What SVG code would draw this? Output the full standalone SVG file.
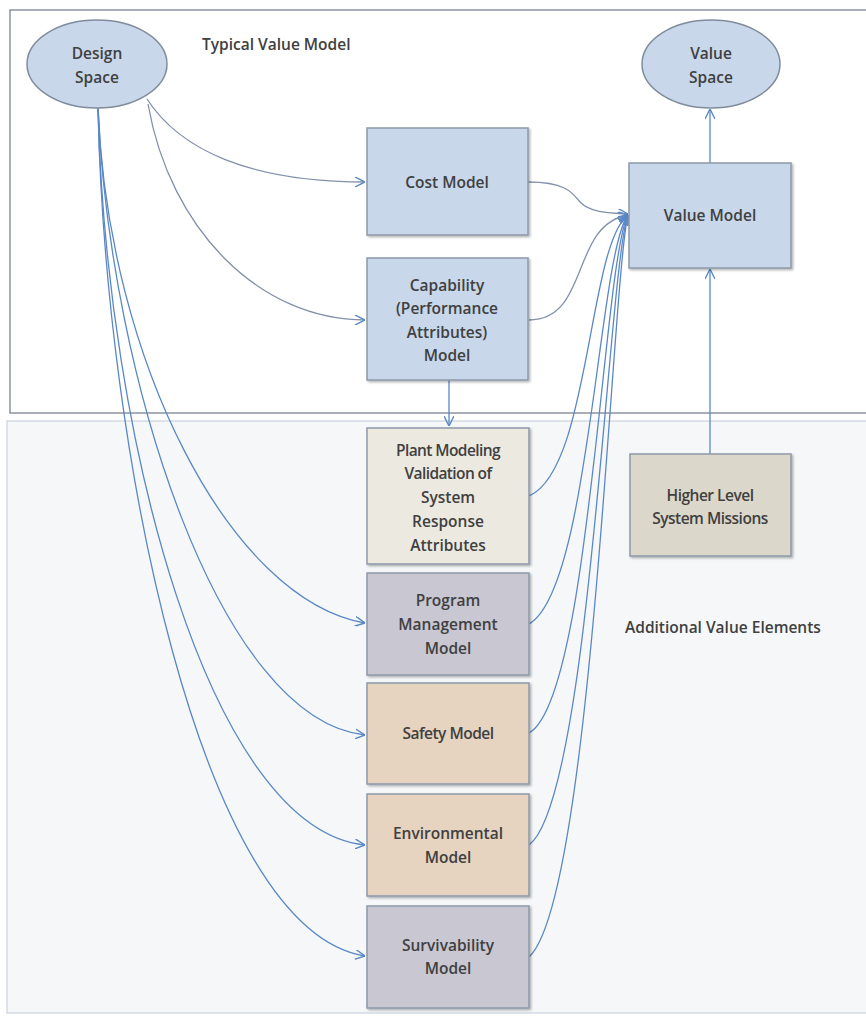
<svg xmlns="http://www.w3.org/2000/svg" width="866" height="1032" viewBox="0 0 866 1032">
  <style>
    .lbl { font-family: "Open Sans", "Liberation Sans", sans-serif; font-size: 15.5px; font-weight: 600; fill: #404040; text-anchor: middle; }
    .title { font-family: "Open Sans", "Liberation Sans", sans-serif; font-size: 15.5px; font-weight: 600; fill: #404040; }
    .box { stroke: #8d99a8; stroke-width: 1.5; filter: url(#shadow); }
    .blue { fill: #c8d7ea; }
    .cream { fill: #ece9e1; }
    .khaki { fill: #dbd8cb; }
    .lav { fill: #c8c7d2; }
    .peach { fill: #e6d3c0; }
    .oval { fill: #c8d7ea; stroke: #7f8c9c; stroke-width: 1.5; }
    .conn { fill: none; stroke: #5a88c6; stroke-width: 1.3; marker-end: url(#arrow); }
    .conn.grey { stroke: #8390ab; }
  </style>
  <defs>
    <marker id="arrow" viewBox="0 0 10 10" refX="10" refY="5" markerWidth="10" markerHeight="10" markerUnits="userSpaceOnUse" orient="auto">
      <path d="M0,0 L10,5 L0,10" fill="none" stroke="#5a88c6" stroke-width="1.4"/>
    </marker>
    <filter id="shadow" x="-10%" y="-10%" width="125%" height="125%">
      <feDropShadow dx="1.5" dy="1.5" stdDeviation="1" flood-color="#000" flood-opacity="0.3"/>
    </filter>
  </defs>

  <rect x="0" y="0" width="866" height="1032" fill="#ffffff"/>

  <!-- Upper frame: typical value model -->
  <g id="typical-frame">
    <rect x="10" y="10" width="870" height="403" fill="#ffffff" stroke="#8c949e" stroke-width="1.5"/>
    <text class="title" x="202" y="50">Typical Value Model</text>
  </g>

  <!-- Lower frame: additional value elements -->
  <g id="additional-frame">
    <rect x="7" y="421" width="870" height="592" fill="#f6f7f8" stroke="#c9d2dc" stroke-width="1.2"/>
    <text class="title" x="625" y="633">Additional Value Elements</text>
  </g>

  <!-- Connectors -->
  <g id="connectors">
    <!-- Design Space outputs -->
    <path class="conn grey" d="M147,99 C180,150 250,182 365,182"/>
    <path class="conn grey" d="M148,104 C170,230 260,320 365,320"/>
    <path class="conn" d="M98,108 C108,360 230,600 365,623"/>
    <path class="conn" d="M98,108 C110,380 220,720 365,735"/>
    <path class="conn" d="M98,108 C106,440 210,830 365,845"/>
    <path class="conn" d="M98,108 C105,450 200,930 365,956"/>
    <!-- Capability to plant modeling -->
    <path class="conn" d="M449,380 L449,426"/>
    <!-- Inputs to value model -->
    <path class="conn grey" d="M528,182 C565,182 572,192 580,202 C590,212 605,213 628,214"/>
    <path class="conn grey" d="M529,320 C590,320 570,225 628,215"/>
    <path class="conn" d="M529,496 C590,470 588,245 628,215"/>
    <path class="conn" d="M529,624 C590,590 598,255 628,215"/>
    <path class="conn" d="M529,733 C590,700 603,262 628,215"/>
    <path class="conn" d="M529,845 C590,800 608,270 628,215"/>
    <path class="conn" d="M529,957 C592,900 612,280 628,215"/>
    <!-- Value model up to value space -->
    <path class="conn" d="M710,163 L710,109"/>
    <!-- Higher level missions up to value model -->
    <path class="conn" d="M710,454 L710,269"/>
  </g>

  <!-- Nodes -->
  <g id="design-space">
    <ellipse class="oval" cx="97" cy="64" rx="70" ry="44"/>
    <text class="lbl" x="97" y="59">Design</text>
    <text class="lbl" x="97" y="83">Space</text>
  </g>

  <g id="value-space">
    <ellipse class="oval" cx="711" cy="64" rx="69" ry="44"/>
    <text class="lbl" x="711" y="59">Value</text>
    <text class="lbl" x="711" y="83">Space</text>
  </g>

  <g id="cost-model">
    <rect class="box blue" x="367" y="128" width="161" height="107"/>
    <text class="lbl" x="447" y="188">Cost Model</text>
  </g>

  <g id="capability-model">
    <rect class="box blue" x="367" y="258" width="161" height="122"/>
    <text class="lbl" x="447" y="291">Capability</text>
    <text class="lbl" x="447" y="314">(Performance</text>
    <text class="lbl" x="447" y="338">Attributes)</text>
    <text class="lbl" x="447" y="361">Model</text>
  </g>

  <g id="value-model">
    <rect class="box blue" x="629" y="163" width="162" height="105"/>
    <text class="lbl" x="710" y="221">Value Model</text>
  </g>

  <g id="plant-modeling">
    <rect class="box cream" x="367" y="428" width="162" height="136"/>
    <text class="lbl" x="448" y="456" letter-spacing="-0.6">Plant Modeling</text>
    <text class="lbl" x="448" y="479" letter-spacing="-0.6">Validation of</text>
    <text class="lbl" x="448" y="503">System</text>
    <text class="lbl" x="448" y="527">Response</text>
    <text class="lbl" x="448" y="551">Attributes</text>
  </g>

  <g id="higher-level-missions">
    <rect class="box khaki" x="630" y="454" width="161" height="102"/>
    <text class="lbl" x="710" y="501" letter-spacing="-0.5">Higher Level</text>
    <text class="lbl" x="710" y="524" letter-spacing="-0.5">System Missions</text>
  </g>

  <g id="program-management-model">
    <rect class="box lav" x="367" y="573" width="162" height="102"/>
    <text class="lbl" x="448" y="606">Program</text>
    <text class="lbl" x="448" y="630">Management</text>
    <text class="lbl" x="448" y="654">Model</text>
  </g>

  <g id="safety-model">
    <rect class="box peach" x="367" y="683" width="162" height="101"/>
    <text class="lbl" x="448" y="739" letter-spacing="-0.5">Safety Model</text>
  </g>

  <g id="environmental-model">
    <rect class="box peach" x="367" y="794" width="162" height="102"/>
    <text class="lbl" x="448" y="839">Environmental</text>
    <text class="lbl" x="448" y="863">Model</text>
  </g>

  <g id="survivability-model">
    <rect class="box lav" x="367" y="906" width="162" height="102"/>
    <text class="lbl" x="448" y="951">Survivability</text>
    <text class="lbl" x="448" y="974">Model</text>
  </g>
</svg>
